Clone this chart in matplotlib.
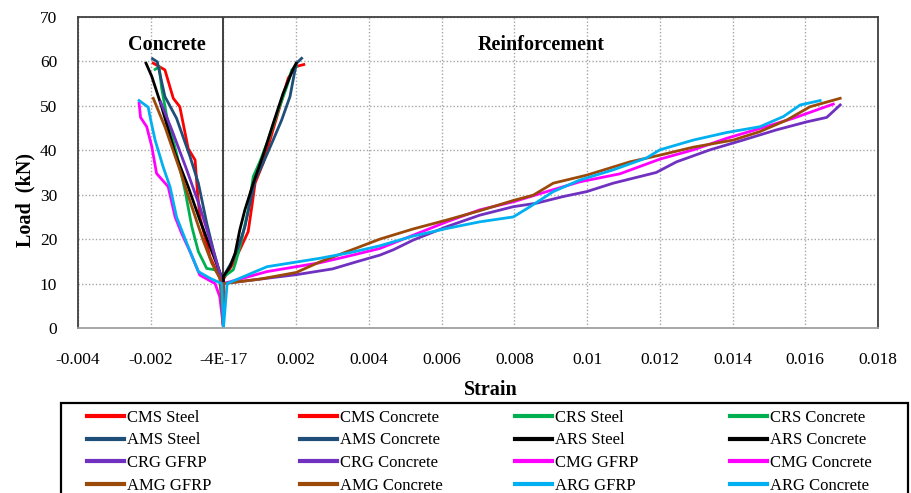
import matplotlib
matplotlib.use("Agg")
import matplotlib.pyplot as plt
from matplotlib.patches import Rectangle

plt.rcParams['font.family'] = ['Liberation Serif', 'DejaVu Serif']

# ---------------- data ----------------
cms_steel_x = [0, 0, 0.00027, 0.00045, 0.00068, 0.00078, 0.00087, 0.00109, 0.00128, 0.00155, 0.00178, 0.00197, 0.00221]
cms_steel_y = [0, 11.0, 14.6, 17.6, 21.7, 27.3, 32.6, 37.1, 42.3, 49.8, 56.2, 58.8, 59.3]
cms_conc_x = [0, -0.00005, -0.00037, -0.00065, -0.00072, -0.00078, -0.00097, -0.0012, -0.00138, -0.00161, -0.00193]
cms_conc_y = [0, 10.4, 16.0, 25.0, 31.1, 37.8, 40.4, 49.8, 51.7, 58.1, 59.6]

crs_steel_x = [0, 0, 0.00027, 0.00034, 0.0005, 0.00068, 0.00082, 0.001, 0.00123, 0.00151, 0.00174, 0.00188, 0.00201]
crs_steel_y = [0, 11.5, 13.1, 14.9, 19.8, 26.6, 34.1, 37.4, 42.3, 49.1, 54.3, 58.1, 58.8]
crs_conc_x = [0, -0.00005, -0.00023, -0.00046, -0.00069, -0.00087, -0.00106, -0.00129, -0.00156, -0.0017, -0.00177, -0.00188]
crs_conc_y = [0, 11.2, 13.1, 13.4, 17.2, 22.8, 31.1, 39.3, 47.6, 54.0, 58.8, 58.2]

ams_steel_x = [0, 0, 0.00023, 0.00041, 0.00059, 0.00073, 0.00087, 0.00109, 0.00133, 0.0016, 0.00183, 0.00195, 0.00201, 0.00215]
ams_steel_y = [0, 11.6, 14.9, 18.3, 22.8, 28.1, 33.3, 37.1, 41.6, 46.8, 52.1, 57.3, 59.6, 60.7]
ams_conc_x = [0, -0.00005, -0.00028, -0.00046, -0.00069, -0.00092, -0.00129, -0.00161, -0.00175, -0.00182, -0.00195]
ams_conc_y = [0, 10.8, 17.6, 23.6, 32.6, 38.6, 47.2, 52.1, 57.3, 59.9, 60.6]

ars_steel_x = [0, 0, 0.00018, 0.00032, 0.00045, 0.00059, 0.00082, 0.00109, 0.00137, 0.00164, 0.00192, 0.0020]
ars_steel_y = [0, 11.6, 13.8, 16.8, 22.1, 26.6, 32.6, 38.9, 46.1, 52.8, 58.4, 59.6]
ars_conc_x = [0, -0.00005, -0.00037, -0.00065, -0.00097, -0.00133, -0.0017, -0.00197, -0.00213]
ars_conc_y = [0, 11.5, 18.3, 24.3, 31.8, 39.3, 49.8, 56.6, 59.6]

crg_gfrp_x = [0, 0, 0.001, 0.002, 0.003, 0.0037, 0.0043, 0.00467, 0.00522, 0.00614, 0.00705, 0.00797, 0.00861,
              0.00935, 0.00999, 0.01072, 0.0119, 0.01246, 0.01338, 0.01429, 0.01521, 0.01604, 0.01659, 0.01696]
crg_gfrp_y = [0, 10, 11.0, 12.0, 13.3, 15.0, 16.4, 17.6, 19.8, 22.8, 25.4, 27.3, 28.1,
              29.6, 30.7, 32.6, 35.0, 37.4, 40.1, 42.3, 44.6, 46.4, 47.4, 50.2]
crg_conc_x = [0, -0.00008, -0.00037, -0.00065, -0.00101, -0.00142, -0.00173]
crg_conc_y = [0, 11.9, 19.8, 27.3, 35.6, 44.6, 50.9]

cmg_gfrp_x = [0, 0, 0.0012, 0.00266, 0.0035, 0.0043, 0.00522, 0.00614, 0.00705, 0.00797, 0.00889, 0.0098,
              0.0109, 0.0120, 0.01292, 0.01384, 0.01475, 0.01567, 0.01677]
cmg_gfrp_y = [0, 10, 12.7, 14.7, 16.3, 17.9, 20.9, 23.9, 26.6, 28.4, 30.7, 32.9,
              34.7, 38.0, 40.1, 42.7, 44.9, 47.2, 50.4]
cmg_conc_x = [0, -0.0001, -0.00023, -0.00065, -0.00092, -0.00115, -0.00133, -0.00152, -0.00184, -0.00197,
              -0.00211, -0.00228, -0.00232]
cmg_conc_y = [0, 7.0, 10.0, 11.9, 17.2, 21.3, 25.0, 31.8, 34.8, 40.8, 45.3, 47.4, 50.6]

amg_gfrp_x = [0, 0, 0.001, 0.002, 0.00266, 0.0035, 0.0043, 0.00522, 0.00614, 0.00705, 0.00797, 0.00852,
              0.00907, 0.00999, 0.01118, 0.012, 0.01292, 0.01402, 0.01475, 0.01549, 0.01613, 0.01696]
amg_gfrp_y = [0, 10, 11.0, 12.5, 14.9, 17.5, 20.0, 22.3, 24.3, 26.4, 28.7, 29.9,
              32.6, 34.4, 37.4, 38.9, 40.7, 42.3, 44.2, 46.8, 49.8, 51.7]
amg_conc_x = [0, -0.0001, -0.00032, -0.00056, -0.00087, -0.0012, -0.00161, -0.00193]
amg_conc_y = [0, 11.2, 14.6, 19.8, 27.3, 35.6, 45.3, 51.7]

arg_gfrp_x = [0, 0.0001, 0.0012, 0.00266, 0.0035, 0.0043, 0.00522, 0.00614, 0.00705, 0.00797, 0.00843,
              0.00907, 0.0098, 0.01072, 0.01164, 0.012, 0.01292, 0.01384, 0.01475, 0.0154, 0.01586, 0.01641]
arg_gfrp_y = [0, 10, 13.8, 15.7, 17.0, 18.5, 20.7, 22.4, 23.9, 25.0, 27.3,
              30.7, 33.3, 35.6, 38.3, 40.1, 42.3, 44.0, 45.3, 47.6, 50.2, 51.2]
arg_conc_x = [0, -0.00005, -0.00037, -0.00069, -0.00101, -0.00129, -0.00147, -0.00166, -0.00188, -0.002,
              -0.00207, -0.00232]
arg_conc_y = [0, 10.0, 11.2, 12.7, 19.1, 25.0, 31.8, 36.3, 42.3, 46.8, 49.7, 51.2]

x_ticks = [-0.004, -0.002, 0, 0.002, 0.004, 0.006, 0.008, 0.01, 0.012, 0.014, 0.016, 0.018]
x_tick_labels = ['-0.004', '-0.002', '-4E-17', '0.002', '0.004', '0.006', '0.008', '0.01',
                 '0.012', '0.014', '0.016', '0.018']
y_ticks = [0, 10, 20, 30, 40, 50, 60, 70]

series = [
    ("CMS Steel", cms_steel_x, cms_steel_y, "#FF0000"),
    ("CMS Concrete", cms_conc_x, cms_conc_y, "#FF0000"),
    ("CRS Steel", crs_steel_x, crs_steel_y, "#00B050"),
    ("CRS Concrete", crs_conc_x, crs_conc_y, "#00B050"),
    ("AMS Steel", ams_steel_x, ams_steel_y, "#1F4E79"),
    ("AMS Concrete", ams_conc_x, ams_conc_y, "#1F4E79"),
    ("ARS Steel", ars_steel_x, ars_steel_y, "#000000"),
    ("ARS Concrete", ars_conc_x, ars_conc_y, "#000000"),
    ("CRG GFRP", crg_gfrp_x, crg_gfrp_y, "#7030C0"),
    ("CRG Concrete", crg_conc_x, crg_conc_y, "#7030C0"),
    ("CMG GFRP", cmg_gfrp_x, cmg_gfrp_y, "#FF00FF"),
    ("CMG Concrete", cmg_conc_x, cmg_conc_y, "#FF00FF"),
    ("AMG GFRP", amg_gfrp_x, amg_gfrp_y, "#9C4A0A"),
    ("AMG Concrete", amg_conc_x, amg_conc_y, "#9C4A0A"),
    ("ARG GFRP", arg_gfrp_x, arg_gfrp_y, "#00B0F0"),
    ("ARG Concrete", arg_conc_x, arg_conc_y, "#00B0F0"),
]

# ---------------- figure ----------------
W, H = 912, 493
fig = plt.figure(figsize=(W / 100, H / 100), dpi=100)
ax = fig.add_axes([78 / W, 1 - 328 / H, 800 / W, 311 / H])

ax.set_xlim(-0.004, 0.018)
ax.set_ylim(0, 70)
ax.set_xticks(x_ticks)
ax.set_xticklabels(x_tick_labels)
ax.set_yticks(y_ticks)
ax.tick_params(axis='both', length=0, labelsize=12.5, colors='black')
ax.tick_params(axis='y', pad=15)
ax.tick_params(axis='x', pad=17)
ax.grid(True, linestyle=(0, (1, 1.5)), color='#A6A6A6', linewidth=1.0)
ax.set_axisbelow(True)

for side in ['top', 'right', 'left']:
    ax.spines[side].set_color('#404040')
    ax.spines[side].set_linewidth(1.3)
ax.spines['bottom'].set_color('#A0A0A0')
ax.spines['bottom'].set_linewidth(1.3)

ax.axvline(0, color='#404040', linewidth=1.4, zorder=1.5)

handles = []
for label, xs, ys, col in series:
    ln, = ax.plot(xs, ys, color=col, linewidth=2.0, label=label, zorder=2, solid_joinstyle='round')
    handles.append(ln)

# text annotations
ax.text(-0.00155, 63.8, "Concrete", ha='center', va='center', fontsize=14.5, fontweight='bold')
ax.text(0.00875, 63.8, "Reinforcement", ha='center', va='center', fontsize=14.5, fontweight='bold')

fig.text(25 / W, 1 - 200 / H, "Load  (kN)", rotation=90, ha='center', va='center',
         fontsize=14.5, fontweight='bold')
fig.text(491 / W, 1 - 390 / H, "Strain", ha='center', va='center', fontsize=14.5, fontweight='bold')

# legend: frame + four columns (row-major order like the reference)
fig.add_artist(Rectangle((61 / W, -0.05), 847 / W, (1 - 403 / H) + 0.05, transform=fig.transFigure,
                         facecolor='white', edgecolor='#000000', linewidth=1.6, clip_on=False, zorder=3))
col_x = [87, 300, 515, 730]
for c in range(4):
    idx = [r * 4 + c for r in range(4)]
    leg = fig.legend(handles=[handles[i] for i in idx], labels=[series[i][0] for i in idx], ncol=1,
                     loc='upper left', bbox_to_anchor=(col_x[c] / W, 1 - 410 / H),
                     frameon=False, fontsize=12, handlelength=2.2, handletextpad=0.2,
                     labelspacing=0.39, borderaxespad=0, borderpad=0)
    leg.set_zorder(4)
    for l in leg.get_lines():
        l.set_linewidth(3.0)

fig.savefig("out.png", dpi=100)
